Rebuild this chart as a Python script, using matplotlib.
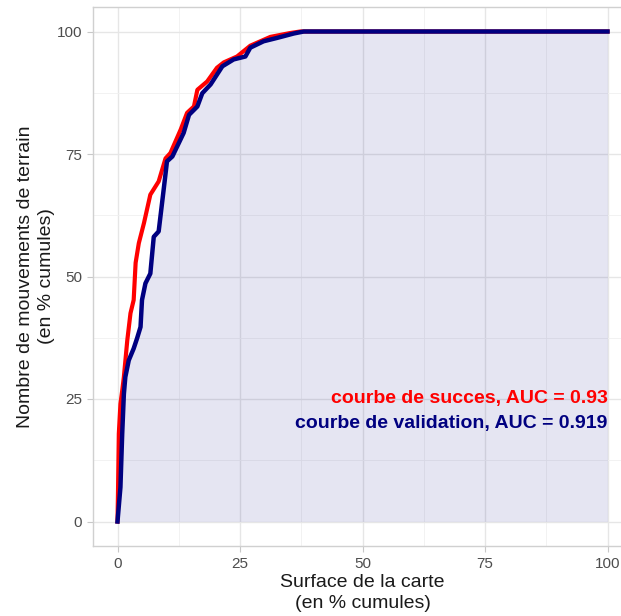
import matplotlib
matplotlib.use("Agg")
import matplotlib.pyplot as plt
from matplotlib.ticker import MultipleLocator

plt.rcParams['font.family'] = ['Liberation Sans', 'DejaVu Sans']

# success curve (red)
succ_x = [0, 0.1, 0.27, 0.6, 1.0, 1.3, 2.0, 2.65, 3.3, 3.7, 4.35, 5.4, 6.7, 8.4, 9.8, 10.8,
          12.9, 14.2, 15.6, 16.3, 18.3, 20.3, 21.7, 24.4, 27.1, 31.2, 35.3, 37.3, 100]
succ_y = [0, 5.7, 17.9, 24, 27, 29.5, 37, 42.5, 45.2, 52.8, 56.8, 60.9, 66.7, 69.4, 74.1, 75.2,
          80, 83.4, 84.7, 88.1, 89.8, 92.6, 93.7, 94.9, 97.1, 98.9, 99.7, 100, 100]

# validation curve (navy)
val_x = [0, 0.6, 0.96, 1.3, 1.6, 2.3, 3.3, 4.0, 4.7, 5.0, 5.7, 6.7, 7.4, 8.4, 9.5, 10.1, 11.2,
         13.5, 14.6, 16.3, 17.3, 19.0, 21.4, 23.7, 26.1, 27.1, 29.8, 32.6, 36.0, 38.0, 100]
val_y = [0, 7, 17.9, 26, 29.5, 32.9, 35.3, 37.4, 39.7, 45.2, 48.6, 50.6, 58.1, 59.2, 68.4, 73.5, 74.5,
         79.3, 83, 84.7, 87.4, 89.2, 92.9, 94.3, 94.9, 96.7, 98, 98.7, 99.6, 100, 100]

labels = ["courbe de succes, AUC = 0.93", "courbe de validation, AUC = 0.919"]
ticks = [0, 25, 50, 75, 100]

W, H = 621, 616
fig = plt.figure(figsize=(W / 100, H / 100), dpi=100)
ax = fig.add_axes([93 / W, 1 - 546 / H, 539 / W, 539 / H])

ax.set_xlim(-5, 105)
ax.set_ylim(-5, 105)
ax.xaxis.set_major_locator(MultipleLocator(25))
ax.yaxis.set_major_locator(MultipleLocator(25))
ax.xaxis.set_minor_locator(MultipleLocator(12.5))
ax.yaxis.set_minor_locator(MultipleLocator(12.5))
ax.grid(which='major', color='#e6e6e6', lw=1.0, zorder=0)
ax.grid(which='minor', color='#f0f0f0', lw=0.6, zorder=0)
ax.set_axisbelow(True)

ax.fill_between(val_x, val_y, 0, color='navy', alpha=0.1, lw=0, zorder=1)
ax.plot(succ_x, succ_y, color='red', lw=3, zorder=2, solid_joinstyle='round')
ax.plot(val_x, val_y, color='navy', lw=3.2, zorder=3, solid_joinstyle='round')

ax.text(100, 25, labels[0], color='red', fontsize=14, fontweight='bold', ha='right', va='center', zorder=4)
ax.text(100, 20, labels[1], color='navy', fontsize=14, fontweight='bold', ha='right', va='center', zorder=4)

for s in ax.spines.values():
    s.set_color('#d0d0d0')
    s.set_linewidth(1.0)
ax.tick_params(which='major', length=4, color='#c8c8c8', labelcolor='#4d4d4d', labelsize=11, pad=4)
ax.tick_params(which='minor', length=0)
ax.set_xticks(ticks)
ax.set_yticks(ticks)

ax.set_xlabel("Surface de la carte\n(en % cumules)", fontsize=14, color='#1a1a1a', linespacing=1.28, labelpad=2)
ax.set_ylabel("Nombre de mouvements de terrain\n(en % cumules)", fontsize=14, color='#1a1a1a', linespacing=1.28, labelpad=1)

fig.savefig("out.png", dpi=100)
